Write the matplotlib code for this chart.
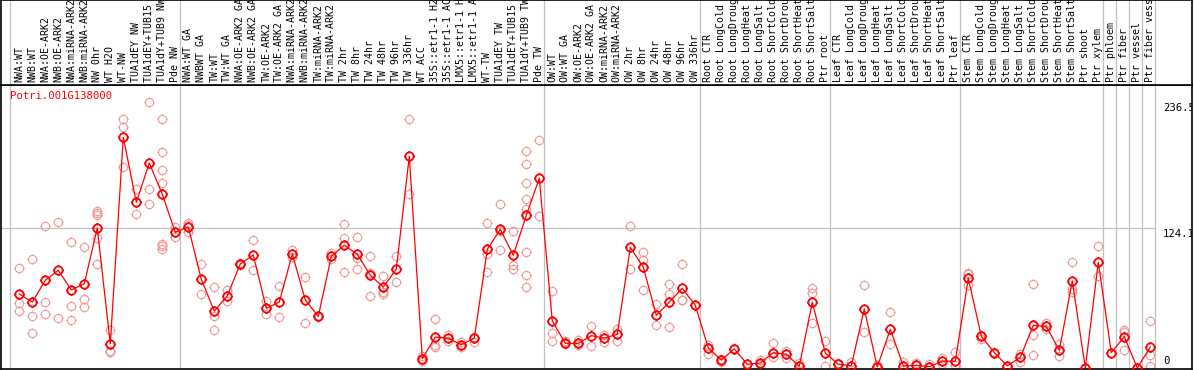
import numpy as np
import matplotlib
matplotlib.use("Agg")
import matplotlib.pyplot as plt
from matplotlib.path import Path

# ---------------------------------------------------------------------
# Datos
# ---------------------------------------------------------------------
gene_id = "Potri.001G138000"

labels = [
    "NWA:WT", "NWB:WT", "NWA:OE-ARK2", "NWB:OE-ARK2", "NWA:miRNA-ARK2",
    "NWB:miRNA-ARK2", "NW 0hr", "WT H2O", "WT-NW", "TUA1dEY NW",
    "TUA1dEY+TUB15 NW", "TUA1dY+TUB9 NW", "Pde NW",
    "NWA:WT GA", "NWBWT GA", "TW:WT", "TW:WT GA", "NWA:OE-ARK2 GA",
    "NWB:OE-ARK2 GA", "TW:OE-ARK2", "TW:OE-ARK2 GA", "NWA:miRNA-ARK2 GA",
    "NWB:miRNA-ARK2 GA", "TW:miRNA-ARK2", "TW:miRNA-ARK2 GA", "TW 2hr",
    "TW 8hr", "TW 24hr", "TW 48hr", "TW 96hr", "TW 336hr", "WT ACC",
    "35S::etr1-1 H2O", "35S::etr1-1 ACC", "LMX5::etr1-1 H2O",
    "LMX5::etr1-1 ACC", "WT-TW", "TUA1dEY TW", "TUA1dEY+TUB15 TW",
    "TUA1dY+TUB9 TW", "Pde TW",
    "OW:WT", "OW:WT GA", "OW:OE-ARK2", "OW:OE-ARK2 GA", "OW:miRNA-ARK2",
    "OW:miRNA-ARK2 GA", "OW 2hr", "OW 8hr", "OW 24hr", "OW 48hr", "OW 96hr",
    "OW 336hr",
    "Root CTR", "Root LongCold", "Root LongDrought", "Root LongHeat",
    "Root LongSalt", "Root ShortCold", "Root ShortDrought", "Root ShortHeat",
    "Root ShortSalt", "Ptr root",
    "Leaf CTR", "Leaf LongCold", "Leaf LongDrought", "Leaf LongHeat",
    "Leaf LongSalt", "Leaf ShortCold", "Leaf ShortDrought", "Leaf ShortHeat",
    "Leaf ShortSalt", "Ptr leaf",
    "Stem CTR", "Stem LongCold", "Stem LongDrought", "Stem LongHeat",
    "Stem LongSalt", "Stem ShortCold", "Stem ShortDrought", "Stem ShortHeat",
    "Stem ShortSalt", "Ptr shoot", "Ptr xylem",
    "Ptr phloem", "Ptr fiber", "Ptr vessel", "Ptr fiber vessel",
]

mean_vals = [
    65.7, 58.6, 77.9, 86.8, 69.3, 74.9, 124.4, 21.3, 204.9, 147.2, 182.1, 154.3, 120.5,
    125.3, 78.8, 50.6, 64.2, 92.4, 100.4, 53.0, 58.6, 101.3, 60.4, 45.9, 99.2, 109.0,
    101.0, 82.3, 72.0, 87.7, 188.1, 8.3, 27.5, 26.4, 20.7, 26.4, 105.4, 123.2, 100.1,
    135.6, 168.5,
    41.8, 21.9, 21.9, 28.7, 26.6, 29.9, 107.2, 89.5, 46.8, 58.4, 70.8, 55.7,
    17.8, 7.1, 16.9, 3.3, 4.4, 13.6, 12.2, 1.5, 58.4, 13.3,
    3.3, 2.0, 52.4, 0.9, 34.4, 1.8, 2.4, 1.2, 6.0, 6.0,
    79.7, 28.2, 13.6, 2.0, 9.5, 37.9, 37.0, 15.7, 77.3, 0.0, 93.9,
    13.6, 27.8, 0.0, 18.7,
]

rep_vals = [
    [88.6, 57.5, 50.6], [96.6, 45.9, 30.8], [126.1, 58.4, 48.0], [129.4, 44.1],
    [111.7, 54.8, 42.6], [107.5, 61.3, 53.9], [139.7, 137.4, 135.6, 115.2, 92.4],
    [33.8, 15.4, 13.9], [221.2, 214.4, 178.3], [158.7, 136.5], [236.5, 158.7, 145.4],
    [221.2, 191.6, 175.6, 164.1, 110.4, 108.6, 105.4], [125.0, 120.5, 116.6],
    [128.5, 127.0, 120.4], [92.6, 65.7], [71.7, 46.2, 33.8], [69.3, 59.8],
    [93.5, 91.3], [113.4, 86.8], [59.8, 48.0], [72.8, 45.0], [104.4, 98.6],
    [80.6, 40.0], [46.2, 45.6], [102.4, 96.8], [127.6, 115.5, 85.3],
    [116.4, 98.0, 87.7], [99.5, 84.7, 64.0], [81.7, 67.8, 66.0], [99.5, 76.1],
    [220.9, 154.8], [10.9, 6.5], [43.3, 20.2, 18.9], [29.6, 24.3], [23.1, 18.4],
    [27.8, 22.8], [128.5, 101.5, 85.0], [145.4, 122.0, 104.6], [121.7, 91.8, 87.9],
    [192.8, 180.9, 164.1, 149.9, 141.5, 103.3, 82.3, 71.7], [202.3, 134.8],
    [68.1, 31.1, 24.3], [24.3, 21.3], [24.9, 20.4], [37.0, 19.8], [29.3, 23.4],
    [34.6, 24.3], [126.1, 87.7], [102.8, 95.7, 69.0], [56.6, 37.9],
    [74.6, 65.5, 36.2], [92.1, 60.2, 60.1], [55.7],
    [20.7, 12.7], [8.3, 5.6], [17.8], [3.3], [7.4, 3.6], [22.2, 9.5], [15.4, 9.1],
    [4.7], [71.1, 66.9, 40.0], [24.0, 1.8],
    [4.2], [5.6], [73.7, 31.7], [2.7], [49.5, 21.1], [5.1], [4.2], [3.6],
    [9.1, 3.6], [13.9, 2.4],
    [84.7, 83.2, 73.7], [29.3, 26.0], [14.2], [2.0], [12.2, 5.6],
    [74.4, 29.0, 11.3], [40.2, 34.9], [21.3, 10.4], [93.9, 70.2, 67.8], [0.0],
    [108.4, 81.7],
    [13.3], [33.8, 32.2, 15.7], [0.0], [42.0, 11.3, 1.8],
]

group_ends = [12, 40, 52, 62, 72, 83, 84, 85, 86, 87]
ytick_vals = [236.5, 124.1, 0]
ytick_text = ["236.5", "124.1", "0"]

# ---------------------------------------------------------------------
# Estilo
# ---------------------------------------------------------------------
COL_LINE = "#ff0000"
COL_REP = "#f09898"
COL_GRID = "#c0c0c0"
FONT = ["DejaVu Sans Mono"]
FS = 7.1

W, H = 1194, 370
X0, DX = 19.3, 13.0          # posición en píxeles de la 1a categoría y paso
Y_SEP, Y_BOT = 85, 369       # separador de cabecera y borde inferior
L_PX, R_PX = 1, 1192


def px2x(px):
    return (px - X0) / DX


def marca():
    # círculo con cuatro pequeñas muescas hacia fuera
    t = 1.22
    segs = [Path([[1, 0], [t, 0]]), Path([[-1, 0], [-t, 0]]),
            Path([[0, 1], [0, t]]), Path([[0, -1], [0, -t]])]
    return Path.make_compound_path(Path.unit_circle(), *segs)


MK = marca()
MS = 7.3

fig = plt.figure(figsize=(W / 100, H / 100), dpi=100)
fig.patch.set_facecolor("white")

ax = fig.add_axes([L_PX / W, (H - Y_BOT) / H, (R_PX - L_PX) / W, (Y_BOT - Y_SEP) / H])
axh = fig.add_axes([L_PX / W, (H - Y_SEP) / H, (R_PX - L_PX) / W, Y_SEP / H])

xlim = (px2x(L_PX), px2x(R_PX))
px_per_unit = 1.1258
y0_px = 368
ax.set_xlim(*xlim)
ax.set_ylim((y0_px - Y_BOT) / px_per_unit, (y0_px - Y_SEP) / px_per_unit)
axh.set_xlim(*xlim)
axh.set_ylim(0, Y_SEP)

for a in (ax, axh):
    a.set_xticks([]); a.set_yticks([])
    for s in a.spines.values():
        s.set_color("black"); s.set_linewidth(1.2)

# líneas de separación de grupos
vlines = [px2x(10.3)] + [g + 0.385 for g in group_ends]
for v in vlines:
    ax.axvline(v, color=COL_GRID, lw=0.9, zorder=0)
    axh.axvline(v, color=COL_GRID, lw=0.9, zorder=0)
ax.plot([xlim[0], vlines[-1]], [124.1, 124.1], color=COL_GRID, lw=0.9, zorder=0)

# réplicas
x = np.arange(len(labels))
for i, reps in enumerate(rep_vals):
    ax.plot([i] * len(reps), reps, ls="none", marker=MK, ms=MS, mfc="none",
            mec=COL_REP, mew=0.8, zorder=2)

# medias
ax.plot(x, mean_vals, color=COL_LINE, lw=0.9, zorder=3)
ax.plot(x, mean_vals, ls="none", marker=MK, ms=MS, mfc="none",
        mec=COL_LINE, mew=1.3, zorder=4)

# etiquetas de cabecera (recortadas por arriba como en el original)
for i, lab in enumerate(labels):
    axh.text(i, 3, lab, rotation=90, ha="center", va="bottom", fontsize=FS,
             family=FONT, clip_on=True)

# identificador del gen
ax.text(px2x(10), (y0_px - 96) / px_per_unit, gene_id, color=COL_LINE,
        fontsize=FS + 0.6, family=FONT, ha="left", va="center")

# marcas del eje derecho
for v, t in zip(ytick_vals, ytick_text):
    va = "bottom" if v == 0 else "top"
    dy = 1.5 if v == 0 else -1.0
    ax.text(px2x(1163), v + dy, t, fontsize=FS + 0.6, family=FONT,
            ha="left", va=va, clip_on=True)

fig.savefig("out.png", dpi=100, facecolor="white")
